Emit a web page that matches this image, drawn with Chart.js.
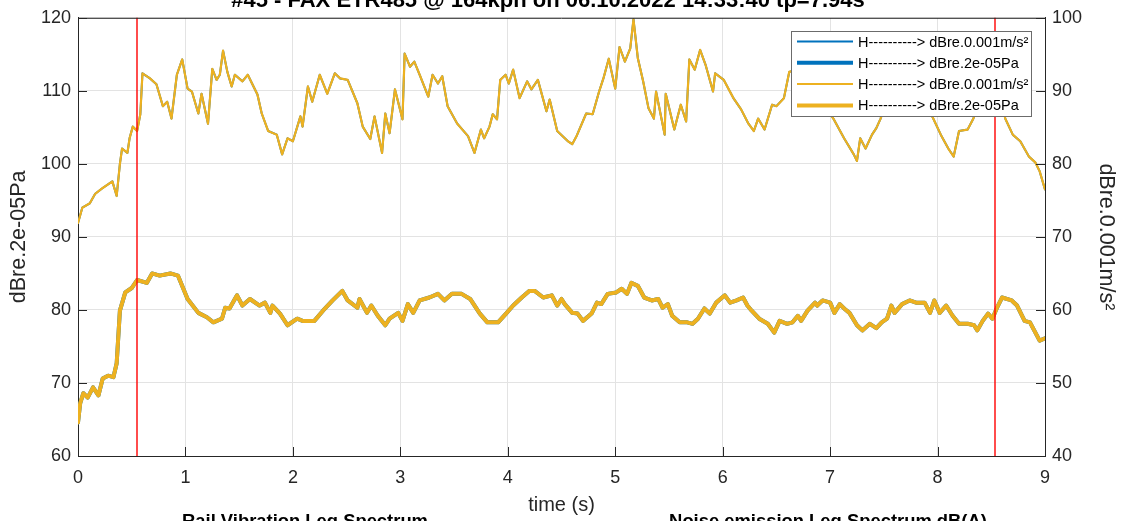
<!DOCTYPE html>
<html><head><meta charset="utf-8">
<script src="https://cdn.jsdelivr.net/npm/chart.js@4/dist/chart.umd.min.js"></script>
<style>html,body{margin:0;padding:0;background:#fff;overflow:hidden}#wrap{width:1124px;height:521px;position:relative}</style>
</head><body><div id="wrap"><canvas id="c" width="1124" height="521"></canvas></div>
<script>
const titleText = "#45 - FAX ETR485 @ 164kph on 06.10.2022 14:33:40 tp=7.94s";
const xLabel = "time (s)";
const yLeftLabel = "dBre.2e-05Pa";
const yRightLabel = "dBre.0.001m/s²";
const legendLabels = ["H----------> dBre.0.001m/s²", "H----------> dBre.2e-05Pa", "H----------> dBre.0.001m/s²", "H----------> dBre.2e-05Pa"];
const subTitles = ["Rail Vibration Leq Spectrum", "Noise emission Leq Spectrum dB(A)"];
const markerTimes = [0.55, 8.53];

const vibTimes = [0.00,0.04,0.11,0.16,0.23,0.32,0.36,0.39,0.41,0.46,0.48,0.51,0.55,0.58,0.60,0.67,0.73,0.79,0.83,0.87,0.92,0.97,1.02,1.06,1.12,1.15,1.21,1.25,1.29,1.32,1.35,1.39,1.43,1.46,1.53,1.58,1.67,1.71,1.77,1.85,1.90,1.95,2.00,2.07,2.09,2.14,2.18,2.25,2.32,2.39,2.44,2.51,2.60,2.65,2.72,2.76,2.83,2.86,2.90,2.95,3.02,3.04,3.09,3.13,3.18,3.26,3.30,3.35,3.39,3.44,3.53,3.63,3.69,3.75,3.78,3.83,3.86,3.90,3.93,3.98,4.01,4.05,4.11,4.18,4.22,4.28,4.36,4.39,4.46,4.56,4.60,4.64,4.73,4.79,4.85,4.89,4.94,5.00,5.04,5.09,5.14,5.17,5.21,5.26,5.31,5.36,5.38,5.46,5.47,5.55,5.61,5.66,5.69,5.74,5.79,5.84,5.91,5.93,6.01,6.10,6.17,6.24,6.29,6.33,6.39,6.46,6.50,6.57,6.62,6.72,6.86,6.95,7.03,7.13,7.22,7.25,7.28,7.33,7.39,7.43,7.47,7.55,7.69,7.83,7.96,8.03,8.10,8.15,8.20,8.28,8.33,8.44,8.53,8.58,8.63,8.70,8.77,8.85,8.91,8.95,9.00];
const vibValues = [71.9,74.0,74.6,75.9,76.7,77.6,75.6,80.0,82.1,81.5,83.5,85.1,84.5,86.8,92.4,91.7,90.9,87.9,88.5,86.2,92.2,94.3,90.3,89.9,86.9,89.6,85.5,93.0,91.5,92.2,95.5,92.6,90.6,92.2,91.3,92.2,89.5,86.9,84.5,84.0,81.3,83.5,83.1,86.5,85.1,90.6,88.5,92.2,89.6,92.4,91.7,91.5,88.3,85.1,83.4,86.5,81.5,86.9,84.2,90.2,86.1,95.1,93.3,94.0,92.2,89.2,92.2,91.0,92.0,87.9,85.5,83.8,81.5,84.7,83.5,85.1,86.8,86.1,91.5,92.2,91.0,92.9,89.0,91.3,90.2,91.5,87.2,88.8,84.5,83.1,82.7,83.8,86.9,86.8,89.9,91.7,94.4,90.3,96.0,94.0,95.8,99.8,94.5,91.3,87.6,86.2,89.9,84.0,89.6,84.7,88.1,85.8,94.3,92.9,95.6,93.6,89.9,92.4,91.5,89.0,87.5,85.5,84.5,86.2,84.7,88.1,87.9,89.0,92.6,93.0,90.0,88.0,86.2,83.5,81.3,80.4,83.5,82.1,84.0,84.9,86.2,90.0,92.0,90.0,86.2,84.0,82.1,81.0,84.5,84.7,86.1,90.0,88.0,90.0,86.2,84.0,83.1,81.0,80.2,79.0,76.5];

const noiseTimes = [0.00,0.02,0.05,0.09,0.14,0.19,0.23,0.28,0.33,0.36,0.39,0.44,0.50,0.55,0.64,0.69,0.76,0.86,0.93,1.02,1.12,1.20,1.26,1.34,1.37,1.41,1.48,1.53,1.60,1.69,1.74,1.79,1.81,1.88,1.95,2.04,2.09,2.20,2.28,2.37,2.46,2.51,2.60,2.62,2.69,2.73,2.79,2.86,2.90,2.98,3.02,3.07,3.12,3.18,3.27,3.35,3.41,3.48,3.57,3.65,3.74,3.81,3.91,3.99,4.05,4.13,4.20,4.25,4.33,4.41,4.46,4.50,4.53,4.60,4.65,4.70,4.78,4.83,4.87,4.93,5.01,5.06,5.11,5.15,5.21,5.27,5.34,5.40,5.44,5.49,5.53,5.60,5.67,5.72,5.77,5.83,5.88,5.94,6.02,6.07,6.13,6.19,6.23,6.27,6.34,6.42,6.48,6.53,6.60,6.65,6.70,6.73,6.79,6.86,6.88,6.93,7.00,7.04,7.09,7.13,7.18,7.25,7.30,7.37,7.43,7.48,7.53,7.57,7.60,7.67,7.74,7.80,7.88,7.93,7.97,8.02,8.08,8.14,8.20,8.28,8.34,8.37,8.42,8.47,8.51,8.55,8.60,8.69,8.74,8.81,8.86,8.95,9.00];
const noiseValues = [64.6,67.2,68.6,68.0,69.4,68.3,70.6,71.0,70.8,72.7,79.9,82.4,83.0,84.1,83.7,85.0,84.7,85.0,84.7,81.5,79.6,79.0,78.3,78.8,80.3,80.2,82.0,80.6,81.5,80.6,81.0,79.6,80.6,79.5,77.9,78.8,78.5,78.5,79.9,81.3,82.6,81.3,80.3,81.5,79.6,80.6,79.2,77.9,78.8,79.6,78.5,80.8,79.6,81.3,81.7,82.2,81.3,82.2,82.2,81.5,79.5,78.3,78.3,79.6,80.6,81.7,82.6,82.6,81.7,82.0,80.6,81.5,80.8,79.6,79.5,78.5,79.5,81.0,80.8,82.2,82.4,82.9,82.2,83.7,83.3,81.7,81.3,81.5,80.3,80.8,79.2,78.3,78.3,78.1,78.8,80.2,79.5,81.0,82.0,81.0,81.3,81.7,80.6,79.9,78.8,78.1,76.9,78.5,78.1,78.3,79.2,78.5,79.9,81.0,80.6,81.3,81.0,79.6,80.8,80.2,79.6,77.9,77.2,78.1,77.5,78.3,78.8,80.6,79.6,80.8,81.3,81.0,81.0,79.6,81.3,79.6,80.6,79.2,78.1,78.1,77.9,77.2,78.5,79.5,78.8,80.2,81.7,81.3,80.6,78.5,78.3,75.8,76.1];

const xTicksVals = [0,1,2,3,4,5,6,7,8,9];
const yLeftTicks = [60,70,80,90,100,110,120];
const yRightTicks = [40,50,60,70,80,90,100];

const BLUE = '#0072BD', YELLOW = '#EDB120', AX = '#262626';
const FONT = "'Liberation Sans', Arial, Helvetica, sans-serif";
Chart.defaults.font.family = FONT;
Chart.defaults.color = AX;

function pts(ts, vs){ return ts.map((t,i)=>({x:t, y:vs[i]})); }

const decor = {
  id: 'decor',
  afterDatasetsDraw(chart){
    const {ctx, chartArea:a, scales} = chart;
    ctx.save();
    ctx.strokeStyle = '#ff0000';
    ctx.lineWidth = 1.4;
    markerTimes.forEach(t=>{
      const x = Math.round(scales.x.getPixelForValue(t));
      ctx.beginPath(); ctx.moveTo(x,a.top); ctx.lineTo(x,a.bottom); ctx.stroke();
    });
    ctx.restore();
  },
  afterDraw(chart){
    const {ctx, chartArea:a, scales} = chart;
    ctx.save();
    ctx.strokeStyle = AX; ctx.lineWidth = 1;
    ctx.beginPath();
    ctx.moveTo(a.left, a.top+0.5); ctx.lineTo(a.right, a.top+0.5);
    ctx.stroke();
    const TL = 9;
    ctx.beginPath();
    xTicksVals.forEach(v=>{ const x = Math.round(scales.x.getPixelForValue(v))+0.5; ctx.moveTo(x,a.bottom); ctx.lineTo(x,a.bottom-TL); });
    yLeftTicks.forEach(v=>{ const y = Math.round(scales.y.getPixelForValue(v))+0.5; ctx.moveTo(a.left,y); ctx.lineTo(a.left+TL,y); });
    yRightTicks.forEach(v=>{ const y = Math.round(scales.y2.getPixelForValue(v))+0.5; ctx.moveTo(a.right,y); ctx.lineTo(a.right-TL,y); });
    ctx.stroke();
    // legend
    const lx = 791.5, ly = 31.5, lw = 240, lh = 85;
    ctx.fillStyle = '#fff'; ctx.fillRect(lx, ly, lw, lh);
    ctx.strokeStyle = '#6b6b6b'; ctx.lineWidth = 1; ctx.strokeRect(lx, ly, lw, lh);
    const items = [[BLUE,2],[BLUE,4],[YELLOW,2],[YELLOW,4]];
    ctx.font = '14.5px ' + FONT; ctx.textBaseline = 'middle'; ctx.textAlign = 'left';
    items.forEach((it,i)=>{
      const y = 41.5 + i*21.3;
      ctx.strokeStyle = it[0]; ctx.lineWidth = it[1];
      ctx.beginPath(); ctx.moveTo(797, y); ctx.lineTo(853, y); ctx.stroke();
      ctx.fillStyle = '#000'; ctx.fillText(legendLabels[i], 858, y+1);
    });
    // title (clipped at top)
    ctx.fillStyle = '#000'; ctx.textAlign = 'center'; ctx.textBaseline = 'alphabetic';
    ctx.font = 'bold 22px ' + FONT;
    ctx.fillText(titleText, 548, 7);
    // subplot titles below (clipped at bottom)
    ctx.font = 'bold 18.4px ' + FONT;
    ctx.fillText(subTitles[0], 305, 527);
    ctx.fillText(subTitles[1], 828, 527);
    ctx.restore();
  }
};

new Chart(document.getElementById('c'), {
  type: 'line',
  data: {
    datasets: [
      {label: legendLabels[2], data: pts(vibTimes, vibValues), yAxisID: 'y2', borderColor: YELLOW, borderWidth: 2.2, order: 0},
      {label: legendLabels[3], data: pts(noiseTimes, noiseValues), yAxisID: 'y', borderColor: YELLOW, borderWidth: 4, order: 0},
      {label: legendLabels[0], data: pts(vibTimes, vibValues), yAxisID: 'y2', borderColor: BLUE, borderWidth: 2, order: 1},
      {label: legendLabels[1], data: pts(noiseTimes, noiseValues), yAxisID: 'y', borderColor: BLUE, borderWidth: 4, order: 1}
    ]
  },
  options: {
    responsive: false, animation: false,
    layout: {padding: {top: 16, left: 0, right: 0, bottom: 0}},
    elements: {point: {radius: 0}, line: {tension: 0, borderJoinStyle: 'round', borderCapStyle: 'round', fill: false}},
    plugins: {legend: {display: false}, tooltip: {enabled: false}, title: {display: false}},
    scales: {
      x: {type: 'linear', min: 0, max: 9,
        ticks: {stepSize: 1, font: {size: 18}, color: AX, padding: 11, maxRotation: 0},
        grid: {color: '#e3e3e3', drawTicks: false},
        border: {color: AX, width: 1},
        title: {display: true, text: xLabel, font: {size: 20}, color: AX, padding: {top: 0, bottom: 4}},
        afterFit(s){ s.height = 65; }
      },
      y: {position: 'left', min: 60, max: 120,
        ticks: {stepSize: 10, font: {size: 18}, color: AX, padding: 7},
        grid: {color: '#e3e3e3', drawTicks: false},
        border: {color: AX, width: 1},
        title: {display: true, text: yLeftLabel, font: {size: 21.5}, color: AX, padding: {top: 6, bottom: 0}},
        afterFit(s){ s.width = 78; }
      },
      y2: {position: 'right', min: 40, max: 100,
        ticks: {stepSize: 10, font: {size: 18}, color: AX, padding: 7},
        grid: {drawOnChartArea: false, drawTicks: false},
        border: {color: AX, width: 1},
        title: {display: true, text: yRightLabel, font: {size: 21.5}, color: AX, padding: {top: 5, bottom: 0}},
        afterFit(s){ s.width = 79; }
      }
    }
  },
  plugins: [decor]
});
</script></body></html>
